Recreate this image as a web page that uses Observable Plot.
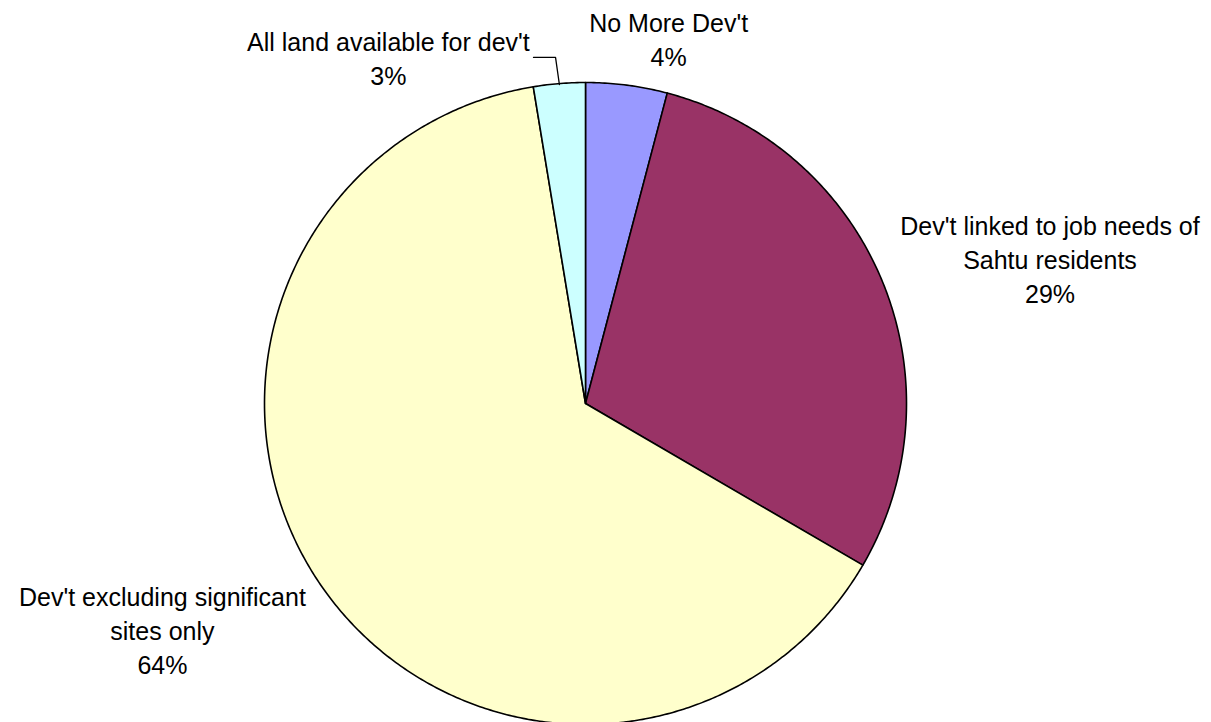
<!DOCTYPE html>
<html>
<head>
<meta charset="utf-8">
<script src="https://cdn.jsdelivr.net/npm/d3@7"></script>
<script src="https://cdn.jsdelivr.net/npm/@observablehq/plot@0.6"></script>
<style>
  html, body { margin: 0; padding: 0; background: #ffffff; }
  #chart svg { display: block; }
</style>
</head>
<body>
<div id="chart"></div>
<script>
// ---- data ----
const categories = ["No More Dev't", "Dev't linked to job needs of\nSahtu residents", "Dev't excluding significant\nsites only", "All land available for dev't"];
const values = [4.1, 29.3, 64.0, 2.6];

// ---- style / layout ----
const colors = ["#9999FF", "#993366", "#FFFFCC", "#CCFFFF"];
// label block centres in unit-circle coordinates (layout only)
const labelPos = [[0.259, 1.137], [1.447, 0.453], [-1.318, -0.704], [-0.614, 1.078]];
const cx = 585, cy = 403, R = 321;

const total = d3.sum(values);
const pct = values.map(v => Math.round(v / total * 100) + "%");

// slice polygons (angles clockwise from 12 o'clock)
const pts = [];
let acc = 0;
categories.forEach((c, i) => {
  const a0 = acc / total * 2 * Math.PI;
  acc += values[i];
  const a1 = acc / total * 2 * Math.PI;
  const n = Math.max(4, Math.ceil((a1 - a0) / (2 * Math.PI) * 720));
  pts.push({cat: c, x: 0, y: 0});
  for (let k = 0; k <= n; k++) {
    const a = a0 + (a1 - a0) * k / n;
    pts.push({cat: c, x: Math.sin(a), y: Math.cos(a)});
  }
  pts.push({cat: c, x: 0, y: 0});
});

const labels = categories.map((c, i) => ({text: c + "\n" + pct[i], x: labelPos[i][0], y: labelPos[i][1]}));

// leader line for the small "All land" slice
const iSmall = 3;
const startSmall = d3.sum(values.slice(0, iSmall)) / total * 2 * Math.PI;
const midSmall = startSmall + values[iSmall] / total * Math.PI;
const ex = Math.sin(midSmall) * 0.997, ey = Math.cos(midSmall) * 0.997;
const leader = [
  {x: -0.162, y: 1.078},
  {x: ex - 0.012, y: 1.078},
  {x: ex, y: ey}
];

const plot = Plot.plot({
  width: 1211,
  height: 722,
  margin: 0,
  style: {background: "#ffffff", fontFamily: "'Liberation Sans', Arial, sans-serif"},
  x: {domain: [-1, 1], range: [cx - R, cx + R], axis: null},
  y: {domain: [-1, 1], range: [cy + R, cy - R], axis: null},
  color: {domain: categories, range: colors},
  marks: [
    Plot.line(pts, {x: "x", y: "y", z: "cat", fill: "cat", stroke: "#000000", strokeWidth: 1.6, strokeLinejoin: "round", curve: "linear"}),
    Plot.line(leader, {x: "x", y: "y", stroke: "#000000", strokeWidth: 1.3}),
    Plot.text(labels, {x: "x", y: "y", text: "text", fontSize: 25, lineHeight: 1.36, textAnchor: "middle", lineAnchor: "middle", fill: "#000000"})
  ]
});
document.getElementById("chart").appendChild(plot);
</script>
</body>
</html>
